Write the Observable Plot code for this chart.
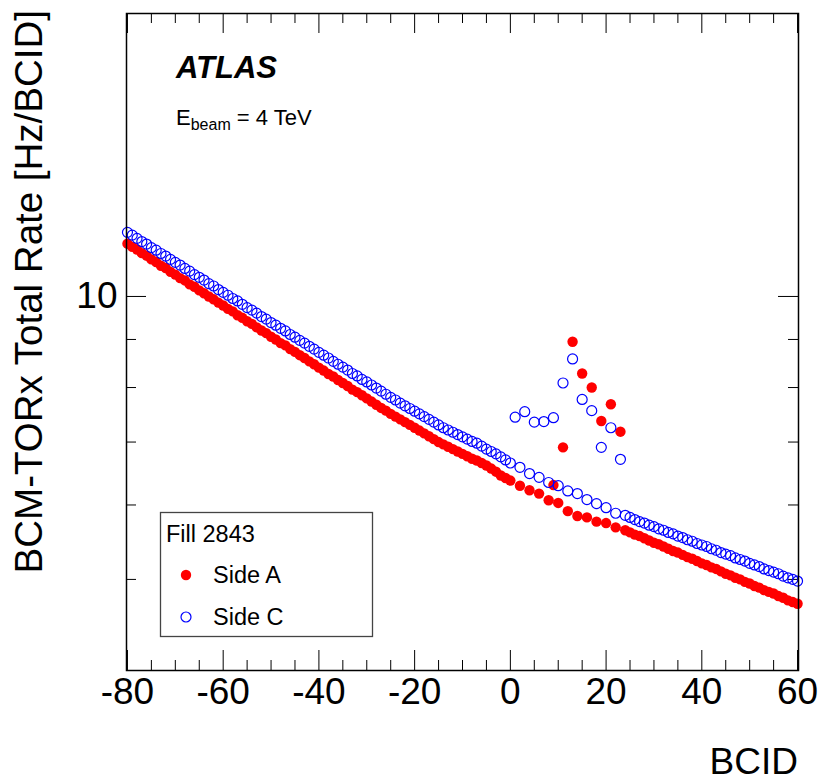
<!DOCTYPE html>
<html>
<head>
<meta charset="utf-8">
<script src="https://cdn.jsdelivr.net/npm/d3@7"></script>
<script src="https://cdn.jsdelivr.net/npm/@observablehq/plot@0.6"></script>
<style>
  html, body { margin: 0; padding: 0; background: white; }
</style>
</head>
<body>
<div id="chart"></div>
<script>
// ---- data ----
const bcid = d3.range(-80, 61); // BCID categories -80 ... 60

const rateSideC = [
  11.70,11.62,11.53,11.44,11.37,11.27,11.20,11.11,11.04,10.95,
  10.87,10.80,10.71,10.64,10.55,10.48,10.41,10.32,10.26,10.17,
  10.10,10.03,9.95,9.89,9.81,9.73,9.67,9.60,9.52,9.46,
  9.38,9.32,9.25,9.19,9.11,9.05,8.98,8.92,8.85,8.79,
  8.72,8.66,8.60,8.53,8.47,8.41,8.35,8.28,8.23,8.16,
  8.11,8.05,7.99,7.93,7.87,7.81,7.76,7.70,7.65,7.60,
  7.55,7.50,7.45,7.40,7.35,7.30,7.25,7.21,7.17,7.13,
  7.09,7.05,7.01,6.98,6.93,6.88,6.84,6.80,6.75,6.70,
  6.65,7.44,6.58,7.54,6.48,7.35,6.42,7.36,6.34,7.43,
  6.29,8.09,6.21,8.58,6.17,7.77,6.08,7.56,6.02,6.91,
  5.96,7.25,5.88,6.71,5.85,5.82,5.79,5.76,5.74,5.71,
  5.69,5.66,5.64,5.61,5.59,5.56,5.54,5.51,5.49,5.46,
  5.44,5.42,5.39,5.37,5.34,5.32,5.30,5.27,5.25,5.23,
  5.20,5.18,5.16,5.13,5.11,5.09,5.07,5.04,5.02,5.00,
  4.98
];

const rateSideA = [
  11.38,11.29,11.22,11.12,11.05,10.95,10.88,10.78,10.72,10.62,
  10.55,10.46,10.40,10.30,10.24,10.15,10.08,10.00,9.93,9.85,
  9.78,9.70,9.64,9.55,9.49,9.41,9.35,9.27,9.20,9.14,
  9.06,9.00,8.92,8.87,8.79,8.73,8.66,8.60,8.53,8.47,
  8.40,8.34,8.27,8.22,8.15,8.09,8.03,7.96,7.91,7.85,
  7.79,7.73,7.67,7.61,7.56,7.50,7.45,7.40,7.35,7.30,
  7.25,7.20,7.15,7.10,7.05,7.00,6.96,6.92,6.88,6.84,
  6.80,6.76,6.72,6.69,6.65,6.61,6.56,6.51,6.45,6.41,
  6.37,null,6.29,null,6.22,null,6.17,null,6.07,6.30,
  6.03,6.91,5.91,8.95,5.84,8.28,5.82,8.00,5.76,7.37,
  5.74,7.68,5.68,7.18,5.64,5.61,5.58,5.56,5.53,5.50,
  5.47,5.45,5.42,5.39,5.36,5.34,5.31,5.28,5.26,5.23,
  5.20,5.18,5.15,5.13,5.10,5.07,5.05,5.02,5.00,4.97,
  4.95,4.92,4.90,4.87,4.85,4.83,4.80,4.78,4.75,4.73,
  4.71
];

const xMajorTicks = [-80, -60, -40, -20, 0, 20, 40, 60];
const xMinorTicks = [-75,-70,-65,-55,-50,-45,-35,-30,-25,-15,-10,-5,5,10,15,25,30,35,45,50,55];
const yMajorTicks = [10];
const yMinorTicks = [5, 6, 7, 8, 9];

const legendTitle = "Fill 2843";
const seriesNames = ["Side A", "Side C"];

// ---- layout ----
const FONT = "'Liberation Sans', Arial, Helvetica, sans-serif";
const W = 821, H = 781;
const mL = 126, mR = 23, mT = 13, mB = 111;
const pW = W - mL - mR, pH = H - mT - mB;

const sideA = bcid.map((b, i) => ({bcid: b, rate: rateSideA[i]})).filter(d => d.rate != null);
const sideC = bcid.map((b, i) => ({bcid: b, rate: rateSideC[i]})).filter(d => d.rate != null);

const chart = Plot.plot({
  width: W, height: H,
  marginLeft: mL, marginRight: mR, marginTop: mT, marginBottom: mB,
  style: {fontFamily: FONT, background: "white", color: "black", overflow: "visible"},
  x: {domain: [-80.2, 60.2]},
  y: {type: "log", domain: [4, 20]},
  marks: [
    // inward ticks: bottom / top
    Plot.ruleX(xMajorTicks, {x: d => d, insetTop: pH - 20, stroke: "black", strokeWidth: 1}),
    Plot.ruleX(xMinorTicks, {x: d => d, insetTop: pH - 10, stroke: "black", strokeWidth: 1}),
    Plot.ruleX(xMajorTicks, {x: d => d, insetBottom: pH - 20, stroke: "black", strokeWidth: 1}),
    Plot.ruleX(xMinorTicks, {x: d => d, insetBottom: pH - 10, stroke: "black", strokeWidth: 1}),
    // inward ticks: left / right
    Plot.ruleY(yMajorTicks, {y: d => d, insetRight: pW - 20, stroke: "black", strokeWidth: 1}),
    Plot.ruleY(yMinorTicks, {y: d => d, insetRight: pW - 10, stroke: "black", strokeWidth: 1}),
    Plot.ruleY(yMajorTicks, {y: d => d, insetLeft: pW - 20, stroke: "black", strokeWidth: 1}),
    Plot.ruleY(yMinorTicks, {y: d => d, insetLeft: pW - 10, stroke: "black", strokeWidth: 1}),
    Plot.axisX(xMajorTicks, {tickSize: 0, tickPadding: 7, fontSize: 37, label: null, tickFormat: d => String(d)}),
    Plot.axisY(yMajorTicks, {tickSize: 0, tickPadding: 9, fontSize: 37, label: null, tickFormat: d => String(d)}),
    Plot.dot(sideA, {x: "bcid", y: "rate", r: 5.2, fill: "#ff0000", stroke: "none"}),
    Plot.dot(sideC, {x: "bcid", y: "rate", r: 5, fill: "none", stroke: "#0000ff", strokeWidth: 1.2}),
    Plot.frame({stroke: "black", strokeWidth: 1.5})
  ]
});

document.getElementById("chart").appendChild(chart);

const svg = d3.select(chart);
const g = svg.append("g").attr("font-family", FONT).attr("fill", "black").attr("text-anchor", "start");

// axis titles
g.append("text")
  .attr("x", 798).attr("y", 774)
  .attr("text-anchor", "end")
  .attr("font-size", 37)
  .text("BCID");

g.append("text")
  .attr("transform", "translate(42,10) rotate(-90)")
  .attr("text-anchor", "end")
  .attr("font-size", 38.5)
  .text("BCM-TORx Total Rate [Hz/BCID]");

// ATLAS label
g.append("text")
  .attr("x", 176).attr("y", 78)
  .attr("text-anchor", "start")
  .attr("font-size", 31)
  .attr("font-weight", "bold")
  .attr("font-style", "italic")
  .text("ATLAS");

const eb = g.append("text").attr("x", 176).attr("y", 125).attr("font-size", 22).attr("text-anchor", "start");
eb.append("tspan").text("E");
eb.append("tspan").attr("font-size", 16).attr("dy", 5).text("beam");
eb.append("tspan").attr("dy", -5).text(" = 4 TeV");

// legend
const lg = g.append("g").attr("text-anchor", "start");
lg.append("rect")
  .attr("x", 160.5).attr("y", 512.5).attr("width", 212).attr("height", 124)
  .attr("fill", "white").attr("stroke", "#444").attr("stroke-width", 1.3);
lg.append("text").attr("x", 166).attr("y", 542).attr("font-size", 23.5).text(legendTitle);
lg.append("circle").attr("cx", 186).attr("cy", 575).attr("r", 5.2).attr("fill", "#ff0000");
lg.append("text").attr("x", 213).attr("y", 583).attr("font-size", 23.5).text(seriesNames[0]);
lg.append("circle").attr("cx", 186).attr("cy", 617).attr("r", 5).attr("fill", "none")
  .attr("stroke", "#0000ff").attr("stroke-width", 1.2);
lg.append("text").attr("x", 213).attr("y", 625).attr("font-size", 23.5).text(seriesNames[1]);
</script>
</body>
</html>
